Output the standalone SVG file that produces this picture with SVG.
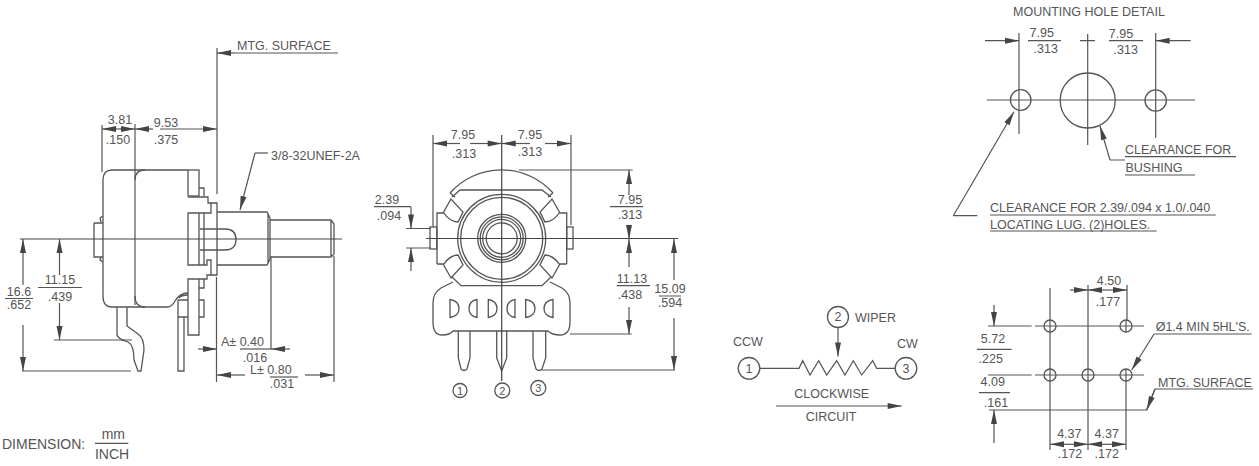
<svg xmlns="http://www.w3.org/2000/svg" width="1259" height="466" viewBox="0 0 1259 466">
<style>
text{font-family:"Liberation Sans",Arial,sans-serif;font-size:12.5px;fill:#555}
.m{text-anchor:middle}
.l{font-size:14px}
path,line,circle,rect{fill:none;stroke:#555;stroke-width:1.3}
.c{stroke:#444;stroke-width:1.2}
.d{stroke:#555;stroke-width:1.2}
.ar{marker-end:url(#a)}
#a path{fill:#444;stroke:none}
</style>
<defs><marker id="a" markerUnits="userSpaceOnUse" markerWidth="16" markerHeight="8" refX="14" refY="4" orient="auto" overflow="visible"><path d="M14,4 L0,1 L0,7 Z"/></marker></defs>
<rect x="0" y="0" width="1259" height="466" style="fill:#fff;stroke:none"/>

<g id="side-view">
<path d="M94,223H103M94,223V257H103M103,216L100,218L101,222M103,262L100,260L101,257"/>
<path d="M188,170H112Q103,170 103,180V296Q103,307 112,307H167Q172,307 175,301Q180,293 188,293"/>
<path d="M145,170Q135,170 135,180M135,296Q135,307 145,307"/>
<path d="M179,298Q181,295 188,295"/>
<rect x="188" y="170" width="11" height="26"/>
<path d="M199,188H204V196"/>
<path d="M188,197H208V203H211V213H188V265H207V260H211V275H207V279H188V335H199V279"/>
<path d="M199,213V265M204,213V265M204,279V288H199M199,300H204V317H199"/>
<path d="M211,203H217V275H211"/>
<path d="M200,229H225Q236,229 236,239.500Q236,250 225,250H200"/>
<path d="M217,212H267L270,218V259L267,265H217M268,213V264"/>
<path d="M270,220H331L334,224V254L331,257H270M331,221V256"/>
<path d="M178,300H188M178,300V317H188M178,317V371H184V317"/>
<path d="M117,307V335Q118,339 128,342Q134,345 134,360L138,371H141L144,350Q144,338 138,334L127,326V307"/>
</g>

<g id="front-view">
<path d="M450,193A69,69 0 0 1 553,193M450,193L455,197M553,193L548,197"/>
<path d="M452,197L460,190H542L551,197"/>
<circle cx="501.700" cy="238.300" r="44"/><circle cx="501.700" cy="238.300" r="41"/>
<circle cx="501.700" cy="238.300" r="24"/><circle cx="501.700" cy="238.300" r="21.500"/><circle cx="501.700" cy="238.300" r="19"/><circle cx="501.700" cy="238.300" r="15.500"/>
<path d="M437,264V213H443L451,199L463,212L458,222Q450,222 443,212"/>
<path d="M566.700,264V213H560L552,199L540,212L545,222Q553,222 560,212"/>
<path d="M437,264H443L451,278L463,265L458,255Q450,255 443,265"/>
<path d="M566.700,264H560L552,278L540,265L545,255Q553,255 560,265"/>
<path d="M452,277L461,285.700H542L551,277"/>
<rect x="430" y="227" width="6.700" height="22"/><rect x="566.700" y="227" width="6.300" height="22"/>
<path d="M453,282L441,288Q433,293 433,303V322Q433,335 442,335Q450,335 453,331H548Q552,335 560,335Q570,335 570,322V303Q570,293 562,288L550,282"/>
<path d="M450,299.500V317.500Q459,316 459,308.500Q459,301 450,299.500Z"/>
<path d="M477,299.500V317.500Q469,316 469,308.500Q469,301 477,299.500Z"/>
<path d="M488.300,299.500V317.500Q497,316 497,308.500Q497,301 488.300,299.500Z"/>
<path d="M515,299.500V317.500Q507,316 507,308.500Q507,301 515,299.500Z"/>
<path d="M525.700,299.500V317.500Q535,316 535,308.500Q535,301 525.700,299.500Z"/>
<path d="M553,299.500V317.500Q544,316 544,308.500Q544,301 553,299.500Z"/>
<path d="M458.300,331V358L461,369Q464,372 467,369L470,358V331"/>
<path d="M496.700,331V358L501.700,371L506.700,358V331"/>
<path d="M533,331V358L536,369Q539,372 542,369L545.700,358V331"/>
</g>
<g id="pin-1"><circle cx="460" cy="390.500" r="7"/><text class="m" x="460" y="394.500" style="font-size:11px">1</text></g>
<g id="pin-2"><circle cx="502.300" cy="390.500" r="7.500"/><text class="m" x="502.300" y="394.500" style="font-size:11px">2</text></g>
<g id="pin-3"><circle cx="538.300" cy="388" r="7.500"/><text class="m" x="538.300" y="392" style="font-size:11px">3</text></g>

<g id="connectors">
<path class="d" d="M217,48V194M216.500,277V382M102,125V172M135,124V305"/>
<path class="d" d="M235,53H338"/><path class="d ar" d="M235,53H217"/>
<path class="d ar" d="M120,129H102"/><path class="d ar" d="M120,129H135"/><path class="d ar" d="M153,129H135"/><path class="d ar" d="M160,129H217"/>
<path class="d" d="M268,153H255"/><path class="d ar" d="M255,153L240,210"/>
<path class="c" d="M20,239H342"/>
<path class="d" d="M5,298.500H33M38,287.500H82M22,371H131M54,340H132"/>
<path class="d ar" d="M23,285V239"/><path class="d ar" d="M23,325V371"/>
<path class="d ar" d="M59.500,275V239"/><path class="d ar" d="M59.500,303V340"/>
<path class="d" d="M271,257V349M334,256V382"/>
<path class="d ar" d="M198,349H217"/><path class="d" d="M240,349H271"/><path class="d ar" d="M290,349H271"/>
<path class="d ar" d="M245,375H217"/><path class="d ar" d="M305,375H334"/><path class="d" d="M270,377H298"/>
<path class="c" d="M501.700,135V381M426,238.500H678"/>
<path class="d" d="M433,135V227M571,135V225"/>
<path class="d ar" d="M460,143.500H433"/><path class="d ar" d="M470,143.500H501.700"/><path class="d ar" d="M530,143.500H501.700"/><path class="d ar" d="M545,143.500H571"/>
<path class="d" d="M519,170H632.700M570,334H631.700M541.700,370H675"/>
<path class="d ar" d="M629,195V170"/><path class="d ar" d="M629,225V239"/><path class="d ar" d="M629,267V239"/><path class="d ar" d="M629,307V334"/>
<path class="d ar" d="M674,280V239"/><path class="d ar" d="M674,318V370"/>
<path class="d" d="M610,206.700H643M616.700,285.700H650M659,296H681"/>
<path class="d" d="M374,206.700H411M406,228.500H431M406,248H431"/>
<path class="d ar" d="M411,206.700V228.500"/><path class="d ar" d="M411,271V248"/>
<path class="d" d="M760,368.300H799L802.700,360.700L810,375L818.700,360.700L826.700,375L836.700,360.700L845,375L853.300,360.700L861.700,375L872.700,360.700L876.700,368.300H895"/>
<path class="d ar" d="M838,328V356.500"/>
<path class="d ar" d="M776,406H901.700"/>
<path class="d" d="M1019,33V134M1087.700,34V145M1155.700,33V138M986.700,100H1195M1080,40.700H1095"/>
<path class="d ar" d="M985,40.700H1019"/><path class="d ar" d="M1190.700,40.700H1155.700"/>
<path class="d" d="M1028,40.700H1061M1109,40.700H1143"/>
<path class="d ar" d="M1110,160L1100,126"/><path class="d" d="M1110,160H1125M1125,156.700H1236M1125,175H1195"/>
<path class="d ar" d="M953.300,215.700L1014,111.700"/><path class="d" d="M953.300,215.700H977.300M990,215H1215.700M990,231H1156.700"/>
<path class="d" d="M1050,288V450M1088,285V450M1127,285V320M1126,320V332M1126,369V450"/>
<path class="d" d="M988,326H1031.700M1035,326H1144M988,375H1031.700M1035,375H1144M989,410H1146.700L1155,389H1253M1154,334H1251.700"/>
<path class="d ar" d="M994,305V326"/><path class="d ar" d="M994,443V410"/>
<path class="d ar" d="M1154,334L1131.700,370"/><path class="d ar" d="M1155,389L1146.700,410"/>
<path class="d ar" d="M1070,290H1088"/><path class="d ar" d="M1107,290H1088"/><path class="d ar" d="M1107,290H1127"/>
<path class="d" d="M977,349.300H1011.700M979,392.700H1010"/>
<path class="d ar" d="M1070,444.300H1050"/><path class="d ar" d="M1070,444.300H1088"/><path class="d ar" d="M1106,444.300H1088"/><path class="d ar" d="M1106,444.300H1126"/>
<path class="d" d="M95,443.300H128.300"/>
</g>

<g id="side-labels">
<text x="237" y="50">MTG. SURFACE</text>
<text class="m" x="120" y="124">3.81</text><text class="m" x="118" y="144">.150</text>
<text class="m" x="166" y="127">9.53</text><text class="m" x="166" y="144">.375</text>
<text x="271" y="160">3/8-32UNEF-2A</text>
<text class="m" x="19" y="296">16.6</text><text class="m" x="19" y="309">.652</text>
<text class="m" x="60" y="284">11.15</text><text class="m" x="60" y="301">.439</text>
<text x="221" y="346">A± 0.40</text><text class="m" x="255" y="362">.016</text>
<text x="250" y="374">L± 0.80</text><text class="m" x="282" y="388">.031</text>
</g>
<g id="front-labels">
<text class="m" x="463" y="139">7.95</text><text class="m" x="464" y="158">.313</text>
<text class="m" x="530" y="139">7.95</text><text class="m" x="530" y="156">.313</text>
<text class="m" x="387" y="204">2.39</text><text class="m" x="389" y="220">.094</text>
<text class="m" x="630" y="204">7.95</text><text class="m" x="630" y="219">.313</text>
<text class="m" x="632" y="283">11.13</text><text class="m" x="630" y="299">.438</text>
<text class="m" x="670" y="293">15.09</text><text class="m" x="670" y="307">.594</text>
</g>
<g id="circuit">
<circle cx="749" cy="368.300" r="10.800"/><text class="m" x="749" y="372.500">1</text>
<circle cx="838" cy="317" r="10.500"/><text class="m" x="838" y="321">2</text>
<circle cx="906" cy="368.300" r="10.800"/><text class="m" x="906" y="372.500">3</text>
<text x="855" y="322">WIPER</text><text x="733" y="346">CCW</text><text x="897" y="348">CW</text>
<text class="m" x="831.700" y="398">CLOCKWISE</text><text class="m" x="831" y="421">CIRCUIT</text>
</g>
<g id="mounting-hole-detail">
<circle cx="1020.700" cy="100" r="10.300"/><circle cx="1087.700" cy="100.500" r="27.500"/><circle cx="1155.700" cy="100.500" r="10.700"/>
<text x="1013" y="16">MOUNTING HOLE DETAIL</text>
<text class="m" x="1041.700" y="37">7.95</text><text class="m" x="1045.700" y="53">.313</text>
<text class="m" x="1121" y="38">7.95</text><text class="m" x="1125.700" y="54">.313</text>
<text x="1125" y="154">CLEARANCE FOR</text><text x="1125.500" y="172">BUSHING</text>
<text x="990" y="212">CLEARANCE FOR 2.39/.094 x 1.0/.040</text><text x="990" y="228.500">LOCATING LUG. (2)HOLES.</text>
</g>
<g id="hole-pattern">
<circle cx="1050" cy="326" r="6"/><circle cx="1126" cy="326" r="6"/><circle cx="1050" cy="375" r="6"/><circle cx="1088" cy="375" r="6"/><circle cx="1126" cy="375" r="6"/>
<text class="m" x="1109" y="285">4.50</text><text class="m" x="1108" y="306">.177</text>
<text class="m" x="993" y="342.500">5.72</text><text class="m" x="990.700" y="363">.225</text>
<text class="m" x="992.700" y="386">4.09</text><text class="m" x="996" y="407">.161</text>
<text class="m" x="1069.300" y="437.500">4.37</text><text class="m" x="1106.700" y="437.500">4.37</text>
<text class="m" x="1070" y="457.500">.172</text><text class="m" x="1106.700" y="457.500">.172</text>
<text x="1155.700" y="331">Ø1.4 MIN 5HL'S.</text><text x="1158" y="386.500">MTG. SURFACE</text>
</g>
<g id="legend">
<text class="l" x="2" y="449">DIMENSION:</text><text class="m l" x="113.300" y="439">mm</text><text class="m l" x="112" y="459">INCH</text>
</g>
</svg>
